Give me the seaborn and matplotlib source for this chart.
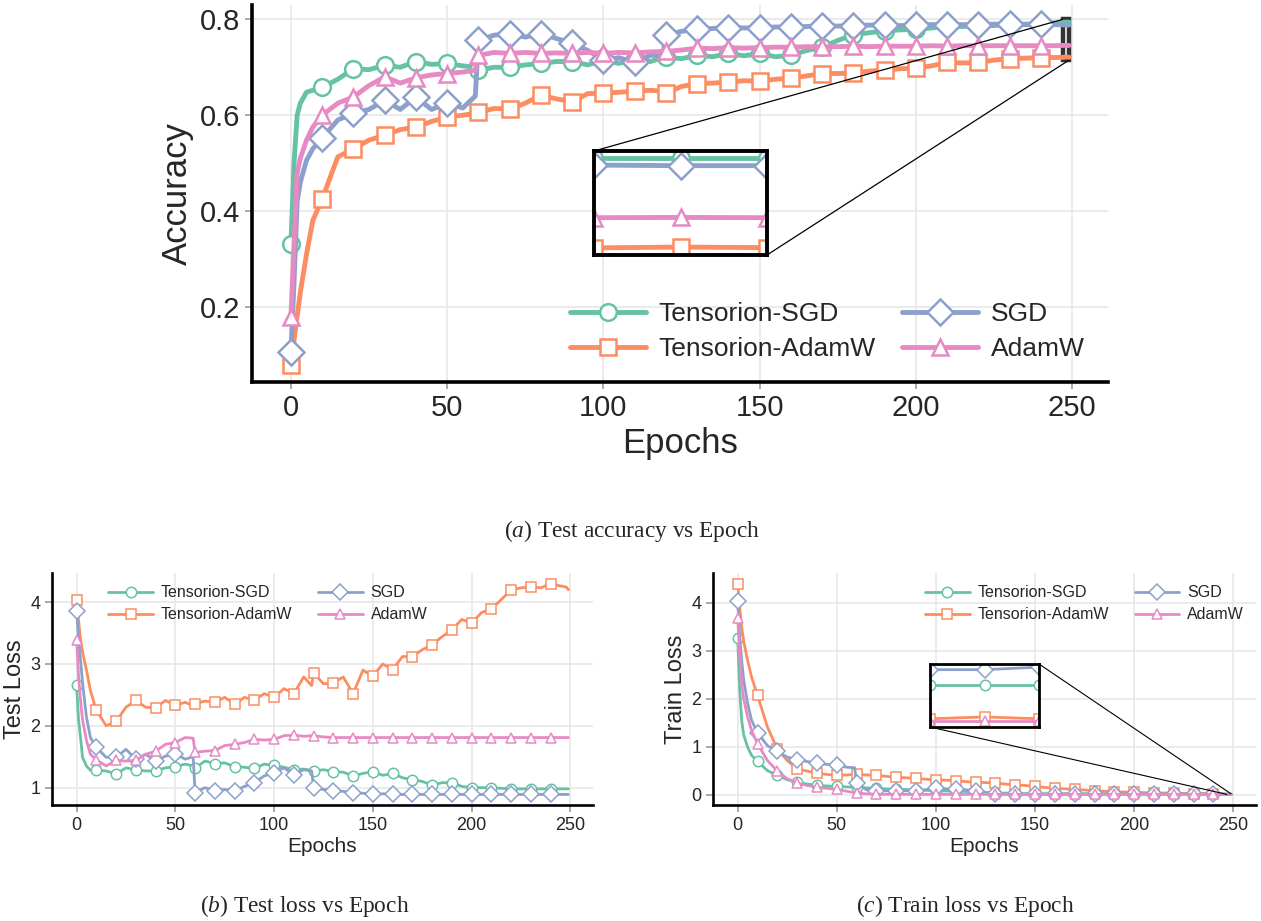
import numpy as np
import pandas as pd
import matplotlib
matplotlib.use("Agg")
import matplotlib.pyplot as plt
import seaborn as sns
from matplotlib.lines import Line2D
from mpl_toolkits.axes_grid1.inset_locator import mark_inset

# ---------------- data ----------------
epochs = [0, 1, 2, 3, 5, 7, 10, 15, 20, 25, 30, 35, 40, 45, 50, 55, 59, 60, 65, 70,
          75, 80, 85, 90, 95, 100, 105, 110, 115, 119, 120, 125, 130, 135, 140, 145,
          150, 155, 160, 165, 170, 175, 180, 185, 190, 195, 200, 205, 210, 215, 220,
          225, 230, 235, 240, 245, 247, 248, 249]

names = ["Tensorion-SGD", "Tensorion-AdamW", "SGD", "AdamW"]

# test accuracy
acc_tsgd = [0.331, 0.50, 0.60, 0.625, 0.648, 0.652, 0.658, 0.675, 0.697, 0.695, 0.704, 0.700,
            0.712, 0.706, 0.708, 0.703, 0.700, 0.694, 0.700, 0.700, 0.705, 0.708, 0.712, 0.712,
            0.705, 0.715, 0.708, 0.718, 0.712, 0.720, 0.721, 0.718, 0.725, 0.722, 0.729, 0.724,
            0.729, 0.722, 0.725, 0.735, 0.742, 0.756, 0.768, 0.772, 0.776, 0.778, 0.779, 0.782,
            0.786, 0.785, 0.788, 0.787, 0.790, 0.790, 0.791, 0.793, 0.7942, 0.7942, 0.7942]
acc_tadamw = [0.079, 0.13, 0.18, 0.23, 0.31, 0.38, 0.425, 0.513, 0.53, 0.548, 0.558, 0.57,
              0.575, 0.587, 0.596, 0.60, 0.604, 0.606, 0.614, 0.613, 0.625, 0.642, 0.634, 0.628,
              0.645, 0.646, 0.648, 0.65, 0.652, 0.65, 0.646, 0.66, 0.666, 0.667, 0.669, 0.672,
              0.671, 0.675, 0.677, 0.682, 0.687, 0.687, 0.688, 0.692, 0.694, 0.697, 0.698, 0.703,
              0.71, 0.709, 0.71, 0.715, 0.718, 0.719, 0.72, 0.7205, 0.7208, 0.7215, 0.721]
acc_sgd = [0.106, 0.25, 0.42, 0.46, 0.506, 0.53, 0.552, 0.59, 0.604, 0.612, 0.631, 0.612,
           0.638, 0.612, 0.625, 0.615, 0.64, 0.756, 0.767, 0.77, 0.763, 0.77, 0.76, 0.75,
           0.735, 0.715, 0.72, 0.71, 0.725, 0.725, 0.767, 0.775, 0.78, 0.781, 0.783, 0.782,
           0.783, 0.784, 0.784, 0.785, 0.787, 0.786, 0.787, 0.788, 0.789, 0.787, 0.788, 0.789,
           0.789, 0.789, 0.789, 0.79, 0.79, 0.789, 0.79, 0.789, 0.7885, 0.788, 0.788]
acc_adamw = [0.179, 0.33, 0.479, 0.51, 0.548, 0.575, 0.60, 0.625, 0.638, 0.662, 0.68, 0.667,
             0.678, 0.684, 0.687, 0.69, 0.694, 0.725, 0.731, 0.729, 0.731, 0.729, 0.73, 0.729,
             0.731, 0.729, 0.731, 0.730, 0.732, 0.733, 0.733, 0.736, 0.74, 0.739, 0.741, 0.740,
             0.741, 0.742, 0.742, 0.743, 0.743, 0.743, 0.744, 0.743, 0.744, 0.744, 0.744, 0.745,
             0.744, 0.745, 0.745, 0.745, 0.745, 0.745, 0.745, 0.745, 0.7455, 0.7457, 0.7455]

# test loss
tl_tsgd = [2.66, 2.1, 1.81, 1.49, 1.35, 1.28, 1.28, 1.27, 1.22, 1.32, 1.29, 1.27, 1.27, 1.32,
           1.34, 1.38, 1.35, 1.32, 1.43, 1.39, 1.40, 1.34, 1.33, 1.31, 1.38, 1.36, 1.33, 1.29,
           1.30, 1.28, 1.27, 1.29, 1.26, 1.25, 1.19, 1.23, 1.26, 1.20, 1.23, 1.16, 1.13, 1.10,
           1.04, 1.08, 1.08, 1.02, 1.00, 1.00, 1.00, 0.99, 0.98, 0.98, 0.98, 0.98, 0.98, 0.98,
           0.98, 0.98, 0.98]
tl_tadamw = [4.03, 3.7, 3.4, 3.2, 2.9, 2.57, 2.25, 2.0, 2.07, 2.3, 2.41, 2.3, 2.29, 2.41,
             2.33, 2.38, 2.32, 2.36, 2.40, 2.38, 2.46, 2.35, 2.46, 2.41, 2.52, 2.46, 2.60, 2.52,
             2.79, 2.65, 2.85, 2.68, 2.69, 2.79, 2.52, 2.90, 2.80, 3.00, 2.91, 3.12, 3.12, 3.23,
             3.31, 3.44, 3.55, 3.72, 3.66, 3.83, 3.89, 4.04, 4.20, 4.23, 4.25, 4.23, 4.30, 4.26,
             4.25, 4.24, 4.20]
tl_sgd = [3.86, 3.4, 3.06, 2.7, 2.14, 1.81, 1.65, 1.49, 1.49, 1.62, 1.46, 1.54, 1.43, 1.51,
          1.55, 1.46, 1.50, 0.92, 1.00, 0.95, 0.97, 0.95, 1.02, 1.08, 1.19, 1.24, 1.32, 1.21,
          1.29, 1.27, 1.00, 0.97, 0.95, 0.94, 0.92, 0.91, 0.89, 0.90, 0.89, 0.89, 0.89, 0.89,
          0.89, 0.89, 0.89, 0.89, 0.89, 0.89, 0.89, 0.89, 0.89, 0.89, 0.89, 0.89, 0.89, 0.89,
          0.89, 0.89, 0.89]
tl_adamw = [3.39, 2.8, 2.41, 2.1, 1.76, 1.54, 1.45, 1.35, 1.44, 1.43, 1.44, 1.54, 1.59, 1.70,
            1.73, 1.81, 1.80, 1.57, 1.59, 1.60, 1.68, 1.70, 1.73, 1.78, 1.77, 1.78, 1.84, 1.85,
            1.83, 1.84, 1.84, 1.82, 1.81, 1.81, 1.81, 1.81, 1.81, 1.81, 1.81, 1.81, 1.81, 1.81,
            1.81, 1.81, 1.81, 1.81, 1.81, 1.81, 1.81, 1.81, 1.81, 1.81, 1.81, 1.81, 1.81, 1.81,
            1.81, 1.81, 1.81]

# train loss
trl_tsgd = [3.27, 2.2, 1.55, 1.25, 0.99, 0.82, 0.69, 0.50, 0.40, 0.31, 0.26, 0.22, 0.19, 0.18,
            0.17, 0.16, 0.15, 0.15, 0.14, 0.13, 0.12, 0.11, 0.105, 0.10, 0.09, 0.08, 0.075,
            0.07, 0.065, 0.06, 0.06, 0.045, 0.035, 0.03, 0.02, 0.018, 0.016, 0.015, 0.015,
            0.015, 0.015, 0.015, 0.015, 0.015, 0.015, 0.015, 0.015, 0.015, 0.015, 0.015, 0.015,
            0.015, 0.012, 0.012, 0.01, 0.009, 0.00845, 0.00845, 0.00845]
trl_tadamw = [4.40, 3.9, 3.5, 3.2, 2.8, 2.45, 2.07, 1.41, 0.95, 0.71, 0.54, 0.49, 0.45, 0.42,
              0.40, 0.41, 0.42, 0.42, 0.41, 0.40, 0.38, 0.36, 0.35, 0.34, 0.32, 0.31, 0.30,
              0.29, 0.27, 0.26, 0.26, 0.25, 0.24, 0.22, 0.20, 0.19, 0.17, 0.15, 0.13, 0.12,
              0.11, 0.095, 0.08, 0.07, 0.06, 0.055, 0.05, 0.04, 0.035, 0.032, 0.03, 0.025,
              0.02, 0.018, 0.015, 0.008, 0.0031, 0.0034, 0.0031]
trl_sgd = [4.04, 3.3, 2.8, 2.4, 1.9, 1.55, 1.29, 1.02, 0.90, 0.78, 0.73, 0.69, 0.65, 0.63,
           0.61, 0.57, 0.56, 0.24, 0.10, 0.08, 0.08, 0.08, 0.08, 0.08, 0.10, 0.14, 0.12, 0.12,
           0.10, 0.09, 0.08, 0.03, 0.015, 0.012, 0.012, 0.012, 0.012, 0.012, 0.012, 0.012,
           0.012, 0.012, 0.012, 0.012, 0.012, 0.012, 0.012, 0.012, 0.012, 0.012, 0.012, 0.012,
           0.012, 0.012, 0.012, 0.012, 0.0109, 0.0109, 0.0113]
trl_adamw = [3.69, 2.9, 2.31, 2.0, 1.62, 1.34, 1.06, 0.71, 0.49, 0.33, 0.24, 0.19, 0.15, 0.13,
             0.11, 0.07, 0.04, 0.035, 0.015, 0.007, 0.006, 0.005, 0.005, 0.005, 0.005, 0.005,
             0.005, 0.005, 0.005, 0.005, 0.005, 0.005, 0.005, 0.005, 0.005, 0.005, 0.005, 0.005,
             0.005, 0.005, 0.005, 0.005, 0.005, 0.005, 0.005, 0.005, 0.005, 0.005, 0.005, 0.005,
             0.005, 0.005, 0.005, 0.005, 0.004, 0.003, 0.0027, 0.0027, 0.0027]

acc_series = [acc_tsgd, acc_tadamw, acc_sgd, acc_adamw]
tl_series = [tl_tsgd, tl_tadamw, tl_sgd, tl_adamw]
trl_series = [trl_tsgd, trl_tadamw, trl_sgd, trl_adamw]

# ---------------- style ----------------
sns.set_style("whitegrid")
plt.rcParams["font.family"] = ["Liberation Sans", "DejaVu Sans"]
plt.rcParams["axes.edgecolor"] = "black"
plt.rcParams["grid.color"] = "#e8e8e8"
plt.rcParams["mathtext.fontset"] = "custom"
plt.rcParams["mathtext.it"] = "Liberation Serif:italic"
plt.rcParams["mathtext.rm"] = "Liberation Serif"

palette = sns.color_palette("Set2", 4)  # green, orange, blue, pink
markers = ["o", "s", "D", "^"]
msizes_scale = [1.0, 1.0, 1.1, 1.0]

mk_idx = [i for i, e in enumerate(epochs) if e % 10 == 0 and e <= 240]

fig = plt.figure(figsize=(12.61, 9.21), dpi=100)


def draw(ax, series, lw, ms, mew, idx=None, x=None):
    xs = epochs if x is None else x
    for vals, col, mk, sc in zip(series, palette, markers, msizes_scale):
        df = pd.DataFrame({"Epochs": xs, "value": vals})
        sns.lineplot(data=df, x="Epochs", y="value", ax=ax, color=col, lw=lw,
                     marker=mk, markevery=idx, ms=ms * sc, mfc="white", mec=col,
                     mew=mew, estimator=None, errorbar=None, legend=False)


def handles(lw, ms, mew):
    return [Line2D([], [], color=c, lw=lw, marker=m, ms=ms * s, mfc="white",
                   mec=c, mew=mew) for c, m, s in zip(palette, markers, msizes_scale)]


def style_main(ax, spine_lw, tick_fs):
    sns.despine(ax=ax)
    for s in ["left", "bottom"]:
        ax.spines[s].set_linewidth(spine_lw)
        ax.spines[s].set_color("black")
    ax.grid(True, color="#e8e8e8", lw=1.2)
    ax.tick_params(axis="both", which="both", length=5, width=1.2, color="#999999",
                   labelsize=tick_fs, bottom=True, left=True)


def style_inset(axins, lw):
    axins.set_xticks([])
    axins.set_yticks([])
    axins.set_xlabel("")
    axins.set_ylabel("")
    axins.grid(False)
    for s in axins.spines.values():
        s.set_visible(True)
        s.set_color("black")
        s.set_linewidth(lw)


# ---------------- (a) test accuracy ----------------
ax1 = fig.add_axes([252 / 1261, 1 - 382 / 921, 856 / 1261, 377 / 921])
draw(ax1, acc_series, lw=3.5, ms=12, mew=1.8, idx=mk_idx)
style_main(ax1, 2.6, 21)
ax1.set_xticks([0, 50, 100, 150, 200, 250])
ax1.set_yticks([0.2, 0.4, 0.6, 0.8])
ax1.set_xlabel("Epochs", fontsize=25)
ax1.set_ylabel("Accuracy", fontsize=25)
ax1.legend(handles(3.5, 12, 1.8), names, ncol=2, loc="lower right",
           bbox_to_anchor=(0.985, 0.027), borderaxespad=0, frameon=False, fontsize=19,
           handlelength=2.85, handletextpad=0.5, columnspacing=1.0, labelspacing=0.42)

axins1 = fig.add_axes([594 / 1261, 1 - 255 / 921, 173 / 1261, 104 / 921])
draw(axins1, [s[-3:] for s in acc_series], lw=3.5, ms=12, mew=1.8, x=epochs[-3:])
axins1.set_xlim(epochs[-3], epochs[-1])
axins1.set_ylim(0.715, 0.800)
style_inset(axins1, 2.8)
pp, p1, p2 = mark_inset(ax1, axins1, loc1=2, loc2=4, fc="none", ec="black", lw=0.9)
pp.set_linewidth(3.2)
pp.set_edgecolor("#333333")

# ---------------- (b) test loss ----------------
ax2 = fig.add_axes([52 / 1261, 1 - 805 / 921, 541 / 1261, 232 / 921])
draw(ax2, tl_series, lw=2.0, ms=7.5, mew=1.1, idx=mk_idx)
style_main(ax2, 1.9, 13)
ax2.set_xticks([0, 50, 100, 150, 200, 250])
ax2.set_yticks([1, 2, 3, 4])
ax2.set_xlabel("Epochs", fontsize=15, labelpad=2)
ax2.set_ylabel("Test Loss", fontsize=17, labelpad=3)
ax2.legend(handles(2.0, 7.5, 1.1), names, ncol=2, loc="upper left",
           bbox_to_anchor=(0.092, 0.975), borderaxespad=0, frameon=False, fontsize=11.5,
           handlelength=2.8, handletextpad=0.5, columnspacing=1.6, labelspacing=0.45)

# ---------------- (c) train loss ----------------
ax3 = fig.add_axes([713 / 1261, 1 - 805 / 921, 543 / 1261, 232 / 921])
draw(ax3, trl_series, lw=2.0, ms=7.5, mew=1.1, idx=mk_idx)
style_main(ax3, 1.9, 13)
ax3.set_xticks([0, 50, 100, 150, 200, 250])
ax3.set_yticks([0, 1, 2, 3, 4])
ax3.set_xlabel("Epochs", fontsize=15, labelpad=2)
ax3.set_ylabel("Train Loss", fontsize=17, labelpad=3)
ax3.legend(handles(2.0, 7.5, 1.1), names, ncol=2, loc="upper right",
           bbox_to_anchor=(0.99, 0.975), borderaxespad=0, frameon=False, fontsize=11.5,
           handlelength=2.8, handletextpad=0.5, columnspacing=1.6, labelspacing=0.45)

axins3 = fig.add_axes([930 / 1261, 1 - 727 / 921, 109 / 1261, 63 / 921])
draw(axins3, [s[-3:] for s in trl_series], lw=2.0, ms=7.5, mew=1.1, x=epochs[-3:])
axins3.set_xlim(epochs[-3], epochs[-1])
axins3.set_ylim(0.0018, 0.0118)
style_inset(axins3, 2.0)
pp3, q1, q2 = mark_inset(ax3, axins3, loc1=1, loc2=3, fc="none", ec="black", lw=0.8)
pp3.set_linewidth(2.2)
pp3.set_edgecolor("#333333")

# ---------------- captions ----------------
cap_kw = dict(ha="center", va="center", fontsize=16.8, family="Liberation Serif")
fig.text(632 / 1261, 1 - 531 / 921, r"$\mathit{(a)}$ Test accuracy vs Epoch", **cap_kw)
fig.text(305 / 1261, 1 - 906 / 921, r"$\mathit{(b)}$ Test loss vs Epoch", **cap_kw)
fig.text(965 / 1261, 1 - 906 / 921, r"$\mathit{(c)}$ Train loss vs Epoch", **cap_kw)

fig.savefig("out.png", dpi=100)
